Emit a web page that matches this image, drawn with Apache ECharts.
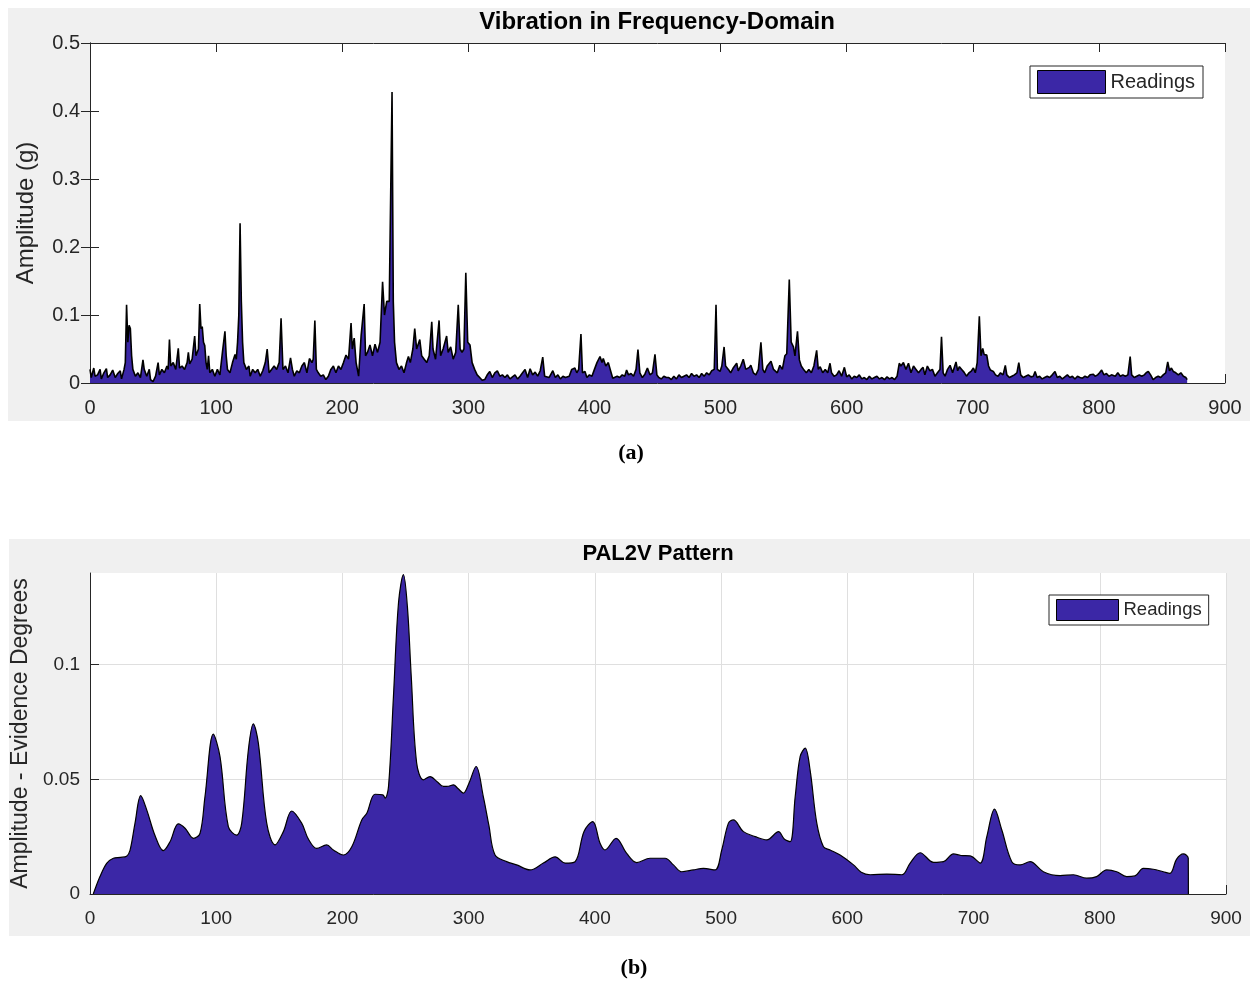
<!DOCTYPE html>
<html><head><meta charset="utf-8">
<script src="https://cdn.jsdelivr.net/npm/echarts@6.0.0/dist/echarts.min.js"></script>
<style>
html,body{margin:0;padding:0;background:#fff;}
#wrap{position:relative;width:1252px;height:981px;}
.panel{position:absolute;background:#f0f0f0;}
#chart{position:absolute;left:0;top:0;width:1252px;height:981px;}
</style></head><body>
<div id="wrap">
<div class="panel" style="left:8px;top:8px;width:1242px;height:413px"></div>
<div class="panel" style="left:9px;top:539px;width:1241px;height:397px"></div>
<div id="chart"></div>
</div>
<script>
// (a) Vibration spectrum: frequency and amplitude (g)
const vibFreq = [
0,1,3,4,6,8,9,11,13,14,
16,18,20,22,24,25,27,28,29,30,
31,32,33,34,36,38,40,42,43,45,
47,48,50,52,54,55,57,59,61,62,
63,64,66,68,70,71,73,75,77,78,
79,81,83,84,86,87,88,89,90,91,
92,93,94,95,97,99,101,103,105,107,
108,109,111,113,115,116,117,118,119,120,
121,122,124,126,127,129,131,133,135,137,
139,140.5,142,144,146,148,150,151.5,153,155,
157,159,160.5,162,164,166,168,170,172,174,
176,177,178.3,179.5,181,183,185,187,189,191,
193,195,197,199,201,203,205,207,208,209.5,
211,213,215,217.4,218.5,220,222,224,226,228,
230,232,233.5,235.3,237.3,239.5,240.5,241.5,243,245,
247,249,251,252.5,254,256,257.5,259,261.5,263,
265,267,269,271,272,274,276.8,278,280,282.8,
284,286,288,290,292,293.5,295,296.5,298,299.5,
301.3,303,305,307,309,311,313,315,317,319,
321,323,325,327,329,331,333,335,337,339,
341,343,345,347,349,351,353,355,357,359,
360.5,362,364,367,369,371,373,375,377,380,
382,384.5,386,387.5,389.3,390.5,392.5,394,396,398,
400,402,404.4,406,407,409,411,412.5,414.5,416,
418,420,422,424,425.5,427,429,431,433,434.5,
436,438,440,442,444,446,448,449.5,451,453,
455,457,459,461,463,465,467,469,471,473,
475,477,479,481,483,485,487,489,491,493,
495,496.4,497.5,499.6,501,502.8,504,506.2,508,510,
512.8,514,516,518,520,522.8,524,526,528,530,
532,533.5,535,537,540,542,545,547,549,551,
552.5,554.5,556,557.8,559,561,562.5,564,566.2,568,
570,572,574,576.2,577.5,579,581,583,585,586.8,
588,590,592,594,596,598.2,600,602,604,606,
608,610,612,614,616,618,620,622,624,626,
628,630,632,634,636,638,640,641.7,643,645,
647,649,651,653,655,657,659,660.6,662,664,
666,668,670,672,674,675.2,676.5,678,680,682,
684,686.7,688,689.4,691.2,693,695,697,699,700.5,
702,703.5,705.2,706.5,707.9,709,711.1,712.5,714,716.3,
718,720,722,724,725.8,727,729,731,733,735,
736.5,738,740,742,744,746.2,748,749.4,751,753,
755,757,759,761,763,765.2,767,769,771,773,
775,777,779,781,783,785,787,789,791,793,
795.6,797,799,800.5,802.2,804,806,808,810,811.5,
813,815,817,819,821,823,824.8,826,828,830,
832,834,836,837.5,839.2,841,843,845,847,849,
851,853,854.6,856,857.5,859,861,863,865,867,
869,870
];
const vibAmp = [
.02,.008,.022,.01,.012,.02,.006,.015,.021,.008,
.012,.019,.008,.014,.018,.006,.02,.03,.115,.06,
.085,.08,.04,.02,.01,.015,.008,.034,.02,.01,
.02,.005,.002,.01,.03,.012,.02,.015,.025,.02,
.064,.025,.03,.02,.051,.022,.025,.02,.03,.045,
.028,.035,.069,.04,.05,.116,.08,.083,.06,.055,
.03,.02,.04,.015,.02,.01,.02,.012,.045,.076,
.04,.02,.015,.03,.042,.035,.06,.1,.235,.12,
.06,.03,.02,.025,.01,.02,.015,.02,.01,.018,
.03,.05,.015,.02,.025,.02,.03,.095,.02,.025,
.015,.037,.02,.01,.018,.015,.025,.03,.015,.036,
.03,.035,.092,.02,.015,.01,.012,.005,.01,.02,
.025,.015,.025,.02,.03,.041,.035,.088,.05,.066,
.03,.01,.07,.116,.04,.045,.056,.04,.057,.045,
.06,.149,.1,.12,.12,.428,.12,.06,.03,.02,
.025,.015,.03,.039,.03,.05,.08,.05,.064,.04,
.035,.03,.04,.09,.05,.035,.092,.04,.05,.069,
.045,.053,.035,.045,.115,.05,.045,.05,.162,.06,
.056,.03,.02,.012,.008,.004,.005,.012,.017,.008,
.015,.018,.01,.012,.008,.012,.006,.009,.012,.006,
.01,.015,.02,.008,.021,.012,.016,.01,.018,.038,
.01,.012,.008,.018,.008,.012,.006,.01,.008,.01,
.02,.022,.015,.02,.072,.015,.017,.008,.012,.01,
.02,.03,.039,.03,.036,.025,.03,.02,.007,.005,
.01,.008,.012,.01,.019,.012,.014,.01,.02,.049,
.015,.008,.013,.022,.012,.015,.042,.012,.008,.006,
.01,.008,.008,.005,.01,.006,.012,.008,.01,.012,
.008,.014,.01,.012,.008,.014,.01,.015,.012,.018,
.02,.115,.02,.017,.025,.053,.025,.02,.015,.022,
.029,.018,.025,.035,.02,.023,.026,.015,.012,.02,
.06,.02,.015,.025,.032,.02,.015,.026,.02,.04,
.043,.152,.06,.053,.04,.076,.034,.025,.019,.015,
.02,.015,.025,.048,.02,.024,.015,.02,.015,.029,
.015,.01,.012,.018,.01,.023,.009,.012,.006,.01,
.008,.012,.006,.008,.005,.01,.006,.008,.01,.006,
.008,.005,.009,.006,.008,.005,.01,.029,.025,.03,
.02,.029,.015,.025,.02,.015,.02,.023,.012,.025,
.018,.02,.01,.015,.02,.068,.015,.01,.02,.026,
.015,.031,.018,.024,.02,.016,.01,.015,.018,.022,
.015,.03,.098,.04,.051,.042,.041,.025,.019,.017,
.012,.01,.015,.012,.026,.012,.008,.01,.012,.015,
.03,.012,.008,.01,.012,.009,.01,.017,.008,.01,
.006,.008,.01,.008,.012,.017,.008,.01,.006,.009,
.012,.008,.01,.006,.01,.008,.007,.01,.008,.012,
.013,.01,.012,.015,.019,.012,.014,.01,.012,.013,
.01,.015,.01,.012,.01,.012,.039,.012,.008,.01,
.012,.01,.012,.015,.017,.012,.005,.008,.01,.008,
.012,.015,.031,.018,.022,.017,.015,.012,.015,.01,
.008,.005
];
// (b) PAL2V pattern: frequency and evidence degree amplitude
const palFreq = [
2.6,7.9,13.2,18.5,24,29,31.7,35.7,40.2,45,
51.5,58.1,63.4,70,75.3,82,87.2,91.1,97.7,103,
109.6,116.2,120.2,125.5,129.4,133.4,140,146.6,153.2,159.8,
167.7,173,179.6,187.5,192.8,200.7,207.4,215.3,219.3,225.8,
232,233.8,236.5,240.4,244.4,248.3,251.5,254.5,258.8,264.1,
269.4,275,280,284,287.9,291.5,295.8,300,305.9,311.6,
316,320.9,330.1,338,348.7,359.2,368.5,376.4,384.3,391.4,
398.3,404.1,408,416.8,425.2,433.2,443.7,455.6,462.2,468.8,
478,486,495.2,500.5,505.8,509.7,517.7,527,536.2,545.5,
550,554.7,558.7,562.6,566.6,570.5,575.8,581.1,586.4,594.3,
604.9,611,618.1,631.3,643.2,649.8,657.7,668.3,676.2,684.1,
690,697.3,705.2,710.5,716.6,722.4,730.3,736.9,744.8,755.3,
768.5,779.1,789.6,797.5,805.5,813.4,821.3,827.9,834.5,842.4,
850.3,855.6,860.9,866.2,870.1,870.2
];
const palAmp = [
0,0.0076,0.0134,0.0156,0.016,0.0165,0.019,0.031,0.0429,0.0366,
0.0255,0.0189,0.0228,0.0306,0.0287,0.0243,0.0265,0.0425,0.0697,0.0599,
0.0294,0.0257,0.0309,0.063,0.0742,0.0657,0.0309,0.0214,0.0272,0.0362,
0.0309,0.024,0.0199,0.0214,0.0192,0.017,0.0206,0.0323,0.0352,0.0435,
0.0432,0.0418,0.0469,0.086,0.1269,0.1393,0.125,0.095,0.0571,0.0498,
0.0512,0.049,0.0469,0.047,0.0476,0.046,0.044,0.048,0.0556,0.0425,
0.03,0.017,0.0141,0.0127,0.0105,0.0135,0.0162,0.0135,0.0141,0.0273,
0.0316,0.0221,0.0192,0.0243,0.0177,0.0137,0.0156,0.0156,0.0127,0.0097,
0.0105,0.0112,0.0105,0.0192,0.0309,0.0323,0.0272,0.025,0.0236,0.0272,
0.024,0.0228,0.0425,0.0599,0.0636,0.054,0.0309,0.0206,0.0192,0.017,
0.0127,0.0095,0.0084,0.0087,0.0084,0.0135,0.018,0.0138,0.0141,0.0175,
0.0168,0.0166,0.0135,0.025,0.037,0.0279,0.0141,0.0127,0.0141,0.0097,
0.008,0.0084,0.0069,0.0076,0.0105,0.0097,0.0076,0.0079,0.0112,0.0108,
0.0097,0.009,0.0152,0.0175,0.0156,0
];
const seriesName = 'Readings';
const titles = ['Vibration in Frequency-Domain', 'PAL2V Pattern'];
const yNames = ['Amplitude (g)', 'Amplitude - Evidence Degrees'];
const captions = ['(a)', '(b)'];

const FILL = '#3b27a6';
const AX = '#262626';
const FONT = '"Liberation Sans", Arial, Helvetica, sans-serif';

const vibData = vibFreq.map((f, i) => [f, vibAmp[i]]);
const palData = palFreq.map((f, i) => [f, palAmp[i]]);

function xAx(grid, pos, showLabel, split, fs) {
  return {
    type: 'value', gridIndex: grid, position: pos, min: 0, max: 900, interval: 100,
    axisLine: { show: true, onZero: false, lineStyle: { color: AX, width: 1 } },
    axisTick: { show: true, inside: true, length: 9, lineStyle: { color: AX } },
    axisLabel: { show: showLabel, fontSize: fs, color: AX, margin: 15, fontFamily: FONT },
    splitLine: { show: split, lineStyle: { color: '#dfdfdf', width: 1 } }
  };
}

const chart = echarts.init(document.getElementById('chart'), null, { renderer: 'canvas' });
chart.setOption({
  animation: false,
  backgroundColor: 'transparent',
  grid: [
    { left: 90, top: 43, width: 1135, height: 340, show: true, backgroundColor: '#fff', borderWidth: 0 },
    { left: 90, top: 573, width: 1136, height: 321, show: true, backgroundColor: '#fff', borderWidth: 0 }
  ],
  xAxis: [
    xAx(0, 'bottom', true, false, 20),
    xAx(0, 'top', false, false, 20),
    xAx(1, 'bottom', true, true, 19)
  ],
  yAxis: [
    {
      type: 'value', gridIndex: 0, position: 'left', min: 0, max: 0.5, interval: 0.1,
      name: yNames[0], nameLocation: 'middle', nameGap: 52,
      nameTextStyle: { fontSize: 24, color: AX, fontFamily: FONT },
      axisLine: { show: true, lineStyle: { color: AX } },
      axisTick: { show: true, inside: true, length: 9, lineStyle: { color: AX } },
      axisLabel: { fontSize: 20, color: AX, margin: 10, fontFamily: FONT },
      splitLine: { show: false }
    },
    {
      type: 'value', gridIndex: 0, position: 'right', min: 0, max: 0.5, interval: 0.1,
      axisLine: { show: true, lineStyle: { color: AX } },
      axisTick: { show: true, inside: true, length: 9, lineStyle: { color: AX } },
      axisLabel: { show: false },
      splitLine: { show: false }
    },
    {
      type: 'value', gridIndex: 1, position: 'left', min: 0, max: 0.14, interval: 0.05,
      name: yNames[1], nameLocation: 'middle', nameGap: 56,
      nameTextStyle: { fontSize: 23, color: AX, fontFamily: FONT },
      axisLine: { show: true, lineStyle: { color: AX } },
      axisTick: { show: true, inside: true, length: 9, lineStyle: { color: AX } },
      axisLabel: { fontSize: 19, color: AX, margin: 10, fontFamily: FONT, showMaxLabel: false },
      splitLine: { show: true, showMaxLine: false, lineStyle: { color: '#dfdfdf', width: 1 } }
    }
  ],
  legend: [
    {
      data: [{ name: seriesName, icon: 'rect' }],
      left: 1030, top: 66, padding: [4, 8, 4, 7], itemWidth: 68, itemHeight: 23,
      backgroundColor: '#fff', borderColor: AX, borderWidth: 1, borderRadius: 0,
      itemStyle: { color: FILL, borderColor: '#000', borderWidth: 1 },
      textStyle: { fontSize: 20, color: AX, fontFamily: FONT },
      selectedMode: false
    },
    {
      data: [{ name: seriesName, icon: 'rect' }],
      left: 1049, top: 595, padding: [4, 7, 4, 7], itemWidth: 62, itemHeight: 21,
      backgroundColor: '#fff', borderColor: AX, borderWidth: 1, borderRadius: 0,
      itemStyle: { color: FILL, borderColor: '#000', borderWidth: 1 },
      textStyle: { fontSize: 18.5, color: AX, fontFamily: FONT },
      selectedMode: false
    }
  ],
  graphic: [
    { type: 'text', x: 657, y: 22, z: 100, style: { text: titles[0], font: 'bold 24px ' + FONT, fill: '#000', align: 'center', verticalAlign: 'middle' } },
    { type: 'text', x: 658, y: 554, z: 100, style: { text: titles[1], font: 'bold 22px ' + FONT, fill: '#000', align: 'center', verticalAlign: 'middle' } },
    { type: 'text', x: 631, y: 453, z: 100, style: { text: captions[0], font: 'bold 22px "Liberation Serif", "Times New Roman", serif', fill: '#000', align: 'center', verticalAlign: 'middle' } },
    { type: 'text', x: 634, y: 968, z: 100, style: { text: captions[1], font: 'bold 22px "Liberation Serif", "Times New Roman", serif', fill: '#000', align: 'center', verticalAlign: 'middle' } }
  ],
  series: [
    {
      name: seriesName, type: 'line', xAxisIndex: 0, yAxisIndex: 0, data: vibData,
      showSymbol: false, symbol: 'none',
      lineStyle: { color: '#000', width: 1.6 },
      itemStyle: { color: FILL },
      areaStyle: { color: FILL, opacity: 1 }
    },
    {
      name: seriesName, type: 'line', xAxisIndex: 2, yAxisIndex: 2, data: palData,
      showSymbol: false, symbol: 'none', smooth: 0.35,
      lineStyle: { color: '#000', width: 1.2 },
      itemStyle: { color: FILL },
      areaStyle: { color: FILL, opacity: 1 }
    }
  ]
});
</script>
</body></html>
